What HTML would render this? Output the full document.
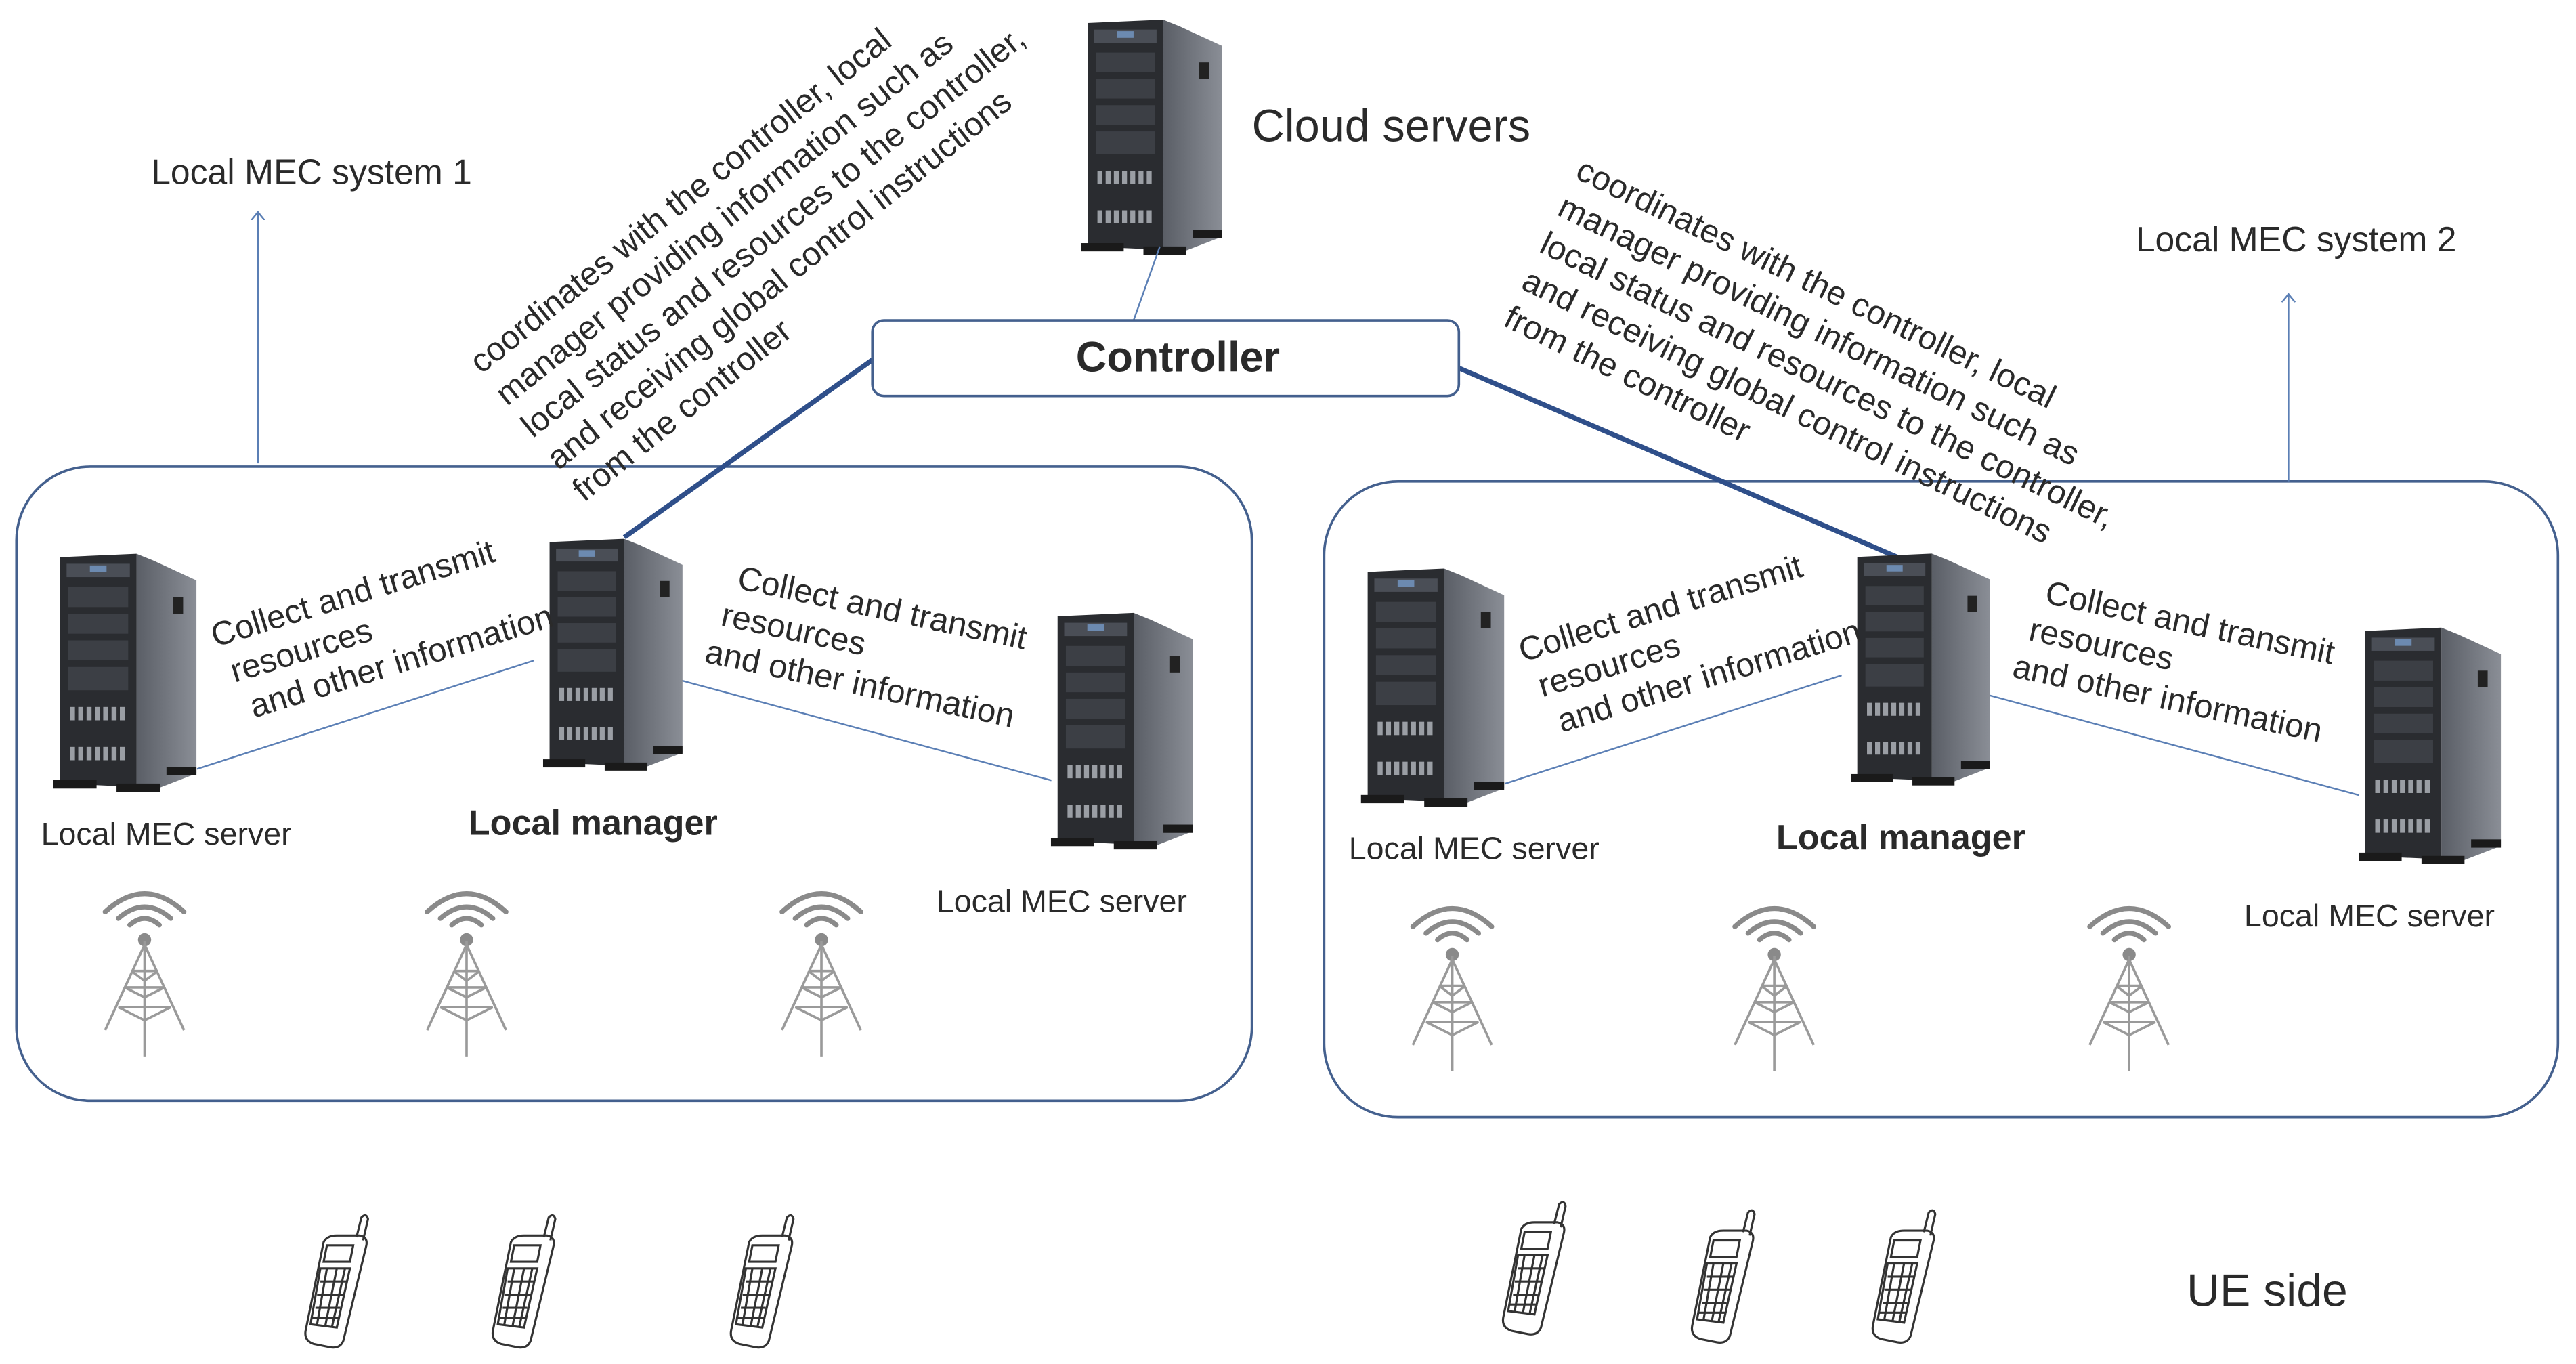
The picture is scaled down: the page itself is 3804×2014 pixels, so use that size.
<!DOCTYPE html>
<html><head><meta charset="utf-8"><style>
html,body{margin:0;padding:0;background:#fff;}
svg{display:block;}
text{font-family:"Liberation Sans","DejaVu Sans",sans-serif;fill:#2a2a2a;}
</style></head><body>
<svg width="3804" height="2014" viewBox="0 0 1568 830.2" preserveAspectRatio="none" xmlns="http://www.w3.org/2000/svg">
<defs>
<linearGradient id="side" x1="0" x2="1"><stop offset="0" stop-color="#5a5e66"/><stop offset="1" stop-color="#8a8e96"/></linearGradient>
<symbol id="srv" viewBox="0 0 90 150">
  <polygon points="52,4 62,8 88,20 88,136 62,146 52,144" fill="url(#side)"/>
  <polygon points="6,6 52,4 52,144 6,142" fill="#2a2c30"/>
  <rect x="10" y="10" width="38" height="8" fill="#4a4e56"/>
  <rect x="24" y="11" width="10" height="4" fill="#6c8ab0"/>
  <g fill="#3c3f45"><rect x="11" y="24" width="36" height="12"/><rect x="11" y="40" width="36" height="12"/><rect x="11" y="56" width="36" height="12"/><rect x="11" y="72" width="36" height="14"/></g>
  <g fill="#9a9ea4">
    <rect x="12" y="96" width="3" height="8"/><rect x="17" y="96" width="3" height="8"/><rect x="22" y="96" width="3" height="8"/><rect x="27" y="96" width="3" height="8"/><rect x="32" y="96" width="3" height="8"/><rect x="37" y="96" width="3" height="8"/><rect x="42" y="96" width="3" height="8"/>
    <rect x="12" y="120" width="3" height="8"/><rect x="17" y="120" width="3" height="8"/><rect x="22" y="120" width="3" height="8"/><rect x="27" y="120" width="3" height="8"/><rect x="32" y="120" width="3" height="8"/><rect x="37" y="120" width="3" height="8"/><rect x="42" y="120" width="3" height="8"/>
  </g>
  <rect x="74" y="30" width="6" height="10" fill="#222"/>
  <rect x="2" y="140" width="26" height="5" fill="#1a1a1a"/><rect x="40" y="142" width="26" height="5" fill="#1a1a1a"/><rect x="70" y="132" width="18" height="5" fill="#1a1a1a"/>
</symbol>
<symbol id="tower" viewBox="0 0 60 110">
  <g fill="none" stroke="#8a8a8a" stroke-width="3" stroke-linecap="round">
    <path d="M6 20 Q30 -2 54 20"/><path d="M14 24 Q30 10 46 24"/><path d="M21 28 Q30 20 39 28"/>
  </g>
  <circle cx="30" cy="37" r="4" fill="#8a8a8a"/>
  <g stroke="#9a9a9a" stroke-width="1.5" fill="none">
    <line x1="30" y1="38" x2="30" y2="108"/><line x1="30" y1="40" x2="6" y2="92"/><line x1="30" y1="40" x2="54" y2="92"/>
    <line x1="22" y1="56" x2="38" y2="56"/><line x1="18" y1="66" x2="42" y2="66"/><line x1="14" y1="78" x2="46" y2="78"/>
    <path d="M22 56 L30 62 L38 56 M18 66 L30 72 L42 66 M14 78 L30 86 L46 78"/>
  </g>
</symbol>
<symbol id="phone" viewBox="0 0 50 85">
  <g fill="none" stroke="#333" stroke-width="1.3">
    <path d="M34 15 L37 3 Q40 0 41 4 L38 17"/>
    <path d="M14 18 Q16 14 22 14 L36 14 Q41 15 40 20 L26 78 Q24 83 18 82 L8 80 Q2 78 3 72 Z"/>
    <path d="M16 20 L32 20 L30 30 L14 30 Z"/>
    <path d="M12 34 L30 34 L22 70 L6 68 Z"/>
    <path d="M12 42 L28 42 M10 50 L26 50 M9 58 L24 58 M7 64 L23 64 M16 34 L10 68 M22 34 L15 69 M27 34 L19 70"/>
  </g>
</symbol>
<marker id="ah" markerWidth="10" markerHeight="10" refX="5" refY="5" orient="auto"><path d="M0 1 L5 5 L0 9" fill="none" stroke="#5b7fb5" stroke-width="1"/></marker>
</defs>

<rect x="10" y="284" width="752" height="386" rx="45" fill="none" stroke="#44608e" stroke-width="1.5"/>
<rect x="806" y="293" width="751" height="387" rx="45" fill="none" stroke="#44608e" stroke-width="1.5"/>

<line x1="157" y1="282" x2="157" y2="129" stroke="#5b7fb5" stroke-width="1" marker-end="url(#ah)"/>
<line x1="1393" y1="293" x2="1393" y2="179" stroke="#5b7fb5" stroke-width="1" marker-end="url(#ah)"/>
<text x="92" y="112" font-size="21.3">Local MEC system 1</text>
<text x="1300" y="153" font-size="21.3">Local MEC system 2</text>

<use href="#srv" x="652" y="8" width="98" height="150"/>
<text x="762" y="86" font-size="27.5">Cloud servers</text>
<line x1="706" y1="150" x2="690" y2="195" stroke="#5b7fb5" stroke-width="1"/>

<line x1="531" y1="219" x2="380" y2="327" stroke="#2f4f8a" stroke-width="3"/>
<line x1="888" y1="224" x2="1157" y2="340" stroke="#2f4f8a" stroke-width="3"/>
<rect x="531" y="195" width="357" height="46" rx="7" fill="#fff" stroke="#44608e" stroke-width="1.5"/>
<text x="717" y="226" font-size="26" font-weight="bold" text-anchor="middle">Controller</text>

<g font-size="20.3" transform="rotate(-38.7 293 228)">
<text x="293" y="228">coordinates with the controller, local</text>
<text x="293" y="253">manager providing information such as</text>
<text x="293" y="278">local status and resources to the controller,</text>
<text x="293" y="303">and receiving global control instructions</text>
<text x="293" y="328">from the controller</text>
</g>
<g font-size="20.3" transform="rotate(26 958 108)">
<text x="958" y="108">coordinates with the controller, local</text>
<text x="958" y="133">manager providing information such as</text>
<text x="958" y="158">local status and resources to the controller,</text>
<text x="958" y="183">and receiving global control instructions</text>
<text x="958" y="208">from the controller</text>
</g>

<g id="sys1">
<line x1="120" y1="468" x2="325" y2="402" stroke="#5b7fb5" stroke-width="1"/>
<line x1="392" y1="408" x2="640" y2="475" stroke="#5b7fb5" stroke-width="1"/>
<use href="#srv" x="30" y="333" width="92" height="152"/>
<use href="#srv" x="327" y="324" width="92" height="148"/>
<use href="#srv" x="637" y="369" width="92" height="151"/>
<text x="25" y="514" font-size="19.2">Local MEC server</text>
<text x="361" y="508" font-size="21.5" font-weight="bold" text-anchor="middle">Local manager</text>
<text x="570" y="555" font-size="19.2">Local MEC server</text>
<g font-size="20.3" transform="rotate(-17 131 394)">
<text x="131" y="394">Collect and transmit</text>
<text x="136" y="418">resources</text>
<text x="141" y="442">and other information</text>
</g>
<g font-size="20.3" transform="rotate(12 448 358)">
<text x="448" y="358">Collect and transmit</text>
<text x="443" y="382">resources</text>
<text x="438" y="406">and other information</text>
</g>
<use href="#tower" x="58" y="535" width="60" height="110"/>
<use href="#tower" x="254" y="535" width="60" height="110"/>
<use href="#tower" x="470" y="535" width="60" height="110"/>
</g>
<use href="#sys1" transform="translate(796 9)"/>

<use href="#phone" x="183" y="738" width="50" height="85"/>
<use href="#phone" x="297" y="738" width="50" height="85"/>
<use href="#phone" x="442" y="738" width="50" height="85"/>
<use href="#phone" x="912" y="730" width="50" height="85"/>
<use href="#phone" x="1027" y="735" width="50" height="85"/>
<use href="#phone" x="1137" y="735" width="50" height="85"/>
<text x="1331" y="795" font-size="28">UE side</text>
</svg>
</body></html>
